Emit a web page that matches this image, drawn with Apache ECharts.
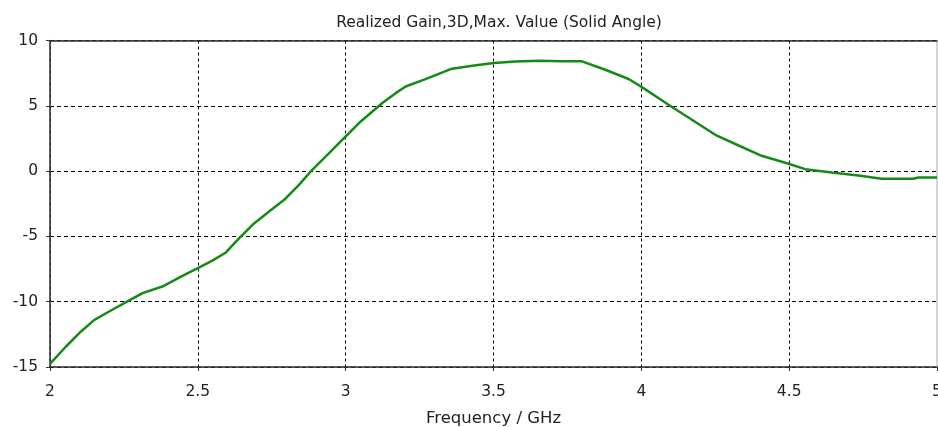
<!DOCTYPE html>
<html>
<head>
<meta charset="utf-8">
<script src="https://cdn.jsdelivr.net/npm/echarts@6/dist/echarts.min.js"></script>
<style>
  html, body { margin: 0; padding: 0; background: #fff; }
  #chart { width: 938px; height: 427px; }
</style>
</head>
<body>
<div id="chart"></div>
<script>
// Realized gain (dB) versus frequency (GHz)
const freqGHz = [
  2.000, 2.054, 2.105, 2.150, 2.200, 2.262, 2.313, 2.380, 2.448, 2.500,
  2.549, 2.595, 2.640, 2.685, 2.741, 2.792, 2.842, 2.887, 2.944, 3.000,
  3.051, 3.124, 3.169, 3.203, 3.270, 3.355, 3.428, 3.501, 3.574, 3.653,
  3.732, 3.797, 3.878, 3.957, 4.002, 4.092, 4.171, 4.250, 4.329, 4.407,
  4.498, 4.554, 4.644, 4.734, 4.813, 4.920, 4.937, 5.000
];
const gainDB = [
  -14.76, -13.43, -12.28, -11.39, -10.75, -9.98, -9.34, -8.84, -8.02, -7.43,
  -6.85, -6.23, -5.13, -4.11, -3.09, -2.20, -1.05, 0.10, 1.38, 2.65,
  3.80, 5.21, 5.97, 6.48, 7.04, 7.81, 8.06, 8.27, 8.39, 8.45,
  8.42, 8.42, 7.76, 7.05, 6.43, 5.08, 3.93, 2.78, 1.96, 1.17,
  0.56, 0.15, -0.11, -0.34, -0.59, -0.59, -0.49, -0.49
];
const xTicks = { min: 2, max: 5, step: 0.5 };
const yTicks = { min: -15, max: 10, step: 5 };

const titleText = 'Realized Gain,3D,Max. Value (Solid Angle)';
const xName = 'Frequency / GHz';

const font = 'DejaVu Sans';
const points = freqGHz.map((f, i) => [f, gainDB[i]]);

const chart = echarts.init(document.getElementById('chart'), null, { renderer: 'canvas' });
chart.setOption({
  animation: false,
  backgroundColor: '#fff',
  title: {
    text: titleText,
    left: 494, top: 10, textAlign: 'center',
    textStyle: { fontFamily: font, fontSize: 15.5, fontWeight: 'normal', color: '#222' }
  },
  grid: {
    left: 50, right: 1, top: 40.5, bottom: 60,
    outerBoundsMode: 'none',
    containLabel: false,
    show: true, borderColor: '#aaa', borderWidth: 1
  },
  xAxis: [{
    type: 'value', min: xTicks.min, max: xTicks.max, interval: xTicks.step,
    name: xName, nameLocation: 'middle', nameGap: 43,
    nameTextStyle: { fontFamily: font, fontSize: 16.5, color: '#222' },
    axisLine: { show: true, onZero: false, lineStyle: { color: '#333', width: 1.5 } },
    axisTick: { show: true, length: 4, lineStyle: { color: '#333' } },
    axisLabel: { fontFamily: font, fontSize: 15.5, color: '#222', margin: 17 },
    splitLine: {
      show: true, showMaxLine: false,
      lineStyle: { color: '#000', type: [3, 3], width: 1 }
    }
  }, {
    type: 'value', position: 'top', min: xTicks.min, max: xTicks.max,
    axisLine: { show: true, onZero: false, lineStyle: { color: '#333', width: 1.5 } },
    axisTick: { show: false }, axisLabel: { show: false }, splitLine: { show: false }
  }],
  yAxis: {
    type: 'value', min: yTicks.min, max: yTicks.max, interval: yTicks.step,
    axisLine: { show: true, onZero: false, lineStyle: { color: '#333', width: 1.5 } },
    axisTick: { show: true, length: 4, lineStyle: { color: '#333' } },
    axisLabel: { fontFamily: font, fontSize: 15.5, color: '#222', margin: 12 },
    splitLine: { show: true, lineStyle: { color: '#000', type: [4, 3], width: 1 } }
  },
  series: [{
    type: 'line',
    data: points,
    showSymbol: false,
    smooth: false,
    lineStyle: { color: '#168a16', width: 2.5 },
    clip: true
  }]
});
</script>
</body>
</html>
